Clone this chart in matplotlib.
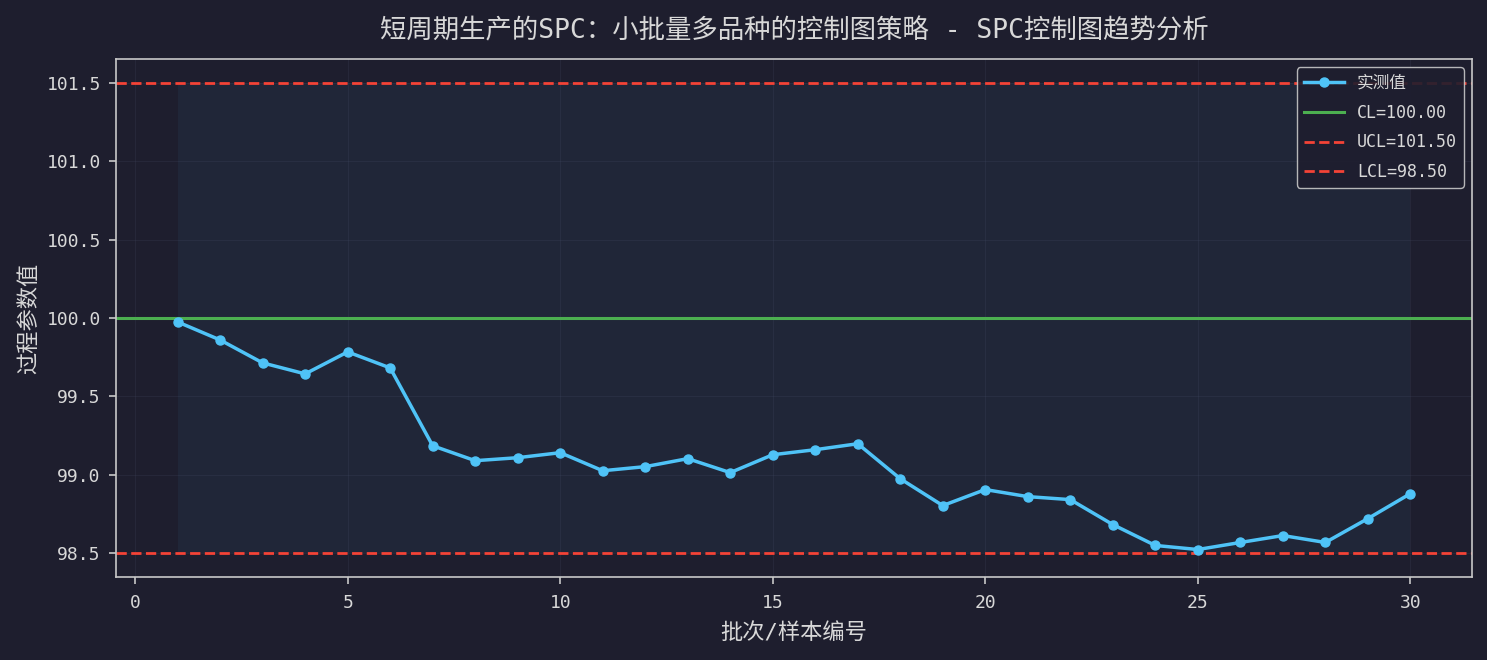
import matplotlib
matplotlib.use("Agg")
import matplotlib.pyplot as plt
import numpy as np

plt.rcParams['font.family'] = ['DejaVu Sans Mono', 'Noto Sans CJK SC']
plt.rcParams['axes.unicode_minus'] = False

samples = list(range(1, 31))
values = [99.975, 99.86, 99.714, 99.644, 99.784, 99.682, 99.186, 99.091, 99.11, 99.142,
          99.027, 99.053, 99.104, 99.015, 99.129, 99.161, 99.199, 98.976, 98.805, 98.907,
          98.862, 98.843, 98.684, 98.551, 98.525, 98.570, 98.614, 98.570, 98.722, 98.881]
CL = 100.0
UCL = 101.5
LCL = 98.5
title = "短周期生产的SPC：小批量多品种的控制图策略 - SPC控制图趋势分析"
xlabel = "批次/样本编号"
ylabel = "过程参数值"

bg = '#1e1e2e'
fg = '#d8d8d8'

fig = plt.figure(figsize=(14.87, 6.6), dpi=100, facecolor=bg)
ax = fig.add_axes([116/1487, 1-577/660, (1472-116)/1487, (577-59)/660])
ax.set_facecolor(bg)

ax.fill_between(samples, LCL, UCL, color='#4FC3F7', alpha=0.05, linewidth=0)
ax.plot(samples, values, color='#4FC3F7', linewidth=2.5, marker='o', markersize=6.5, label='实测值', zorder=5)
ax.axhline(CL, color='#4CAF50', linewidth=2.2, label=f'CL={CL:.2f}')
ax.axhline(UCL, color='#F44336', linewidth=2, linestyle='--', label=f'UCL={UCL:.2f}')
ax.axhline(LCL, color='#F44336', linewidth=2, linestyle='--', label=f'LCL={LCL:.2f}')

ax.set_xlim(-0.45, 31.45)
ax.set_ylim(98.35, 101.65)
ax.set_xticks([0, 5, 10, 15, 20, 25, 30])
ax.set_yticks([98.5, 99.0, 99.5, 100.0, 100.5, 101.0, 101.5])
ax.yaxis.set_major_formatter(matplotlib.ticker.FormatStrFormatter('%.1f'))
ax.grid(True, color='#3a3f55', alpha=0.3, linewidth=0.8)
ax.set_axisbelow(True)

for s in ax.spines.values():
    s.set_color('#c8c8c8')
    s.set_linewidth(1.2)
ax.tick_params(colors='#c8c8c8', labelcolor=fg, labelsize=13, length=5, width=1.2)
ax.tick_params(axis='x', pad=7.5)
ax.tick_params(axis='y', pad=6)

ax.set_title(title, color=fg, fontsize=19, pad=15)
ax.set_xlabel(xlabel, color=fg, fontsize=16, labelpad=7)
ax.set_ylabel(ylabel, color=fg, fontsize=16, labelpad=5)

leg = ax.legend(loc='upper right', facecolor=bg, edgecolor='#c8c8c8', fontsize=12,
                framealpha=0.9, labelcolor=fg, labelspacing=0.7, handlelength=2.4)

fig.savefig('out.png', dpi=100, facecolor=bg)
